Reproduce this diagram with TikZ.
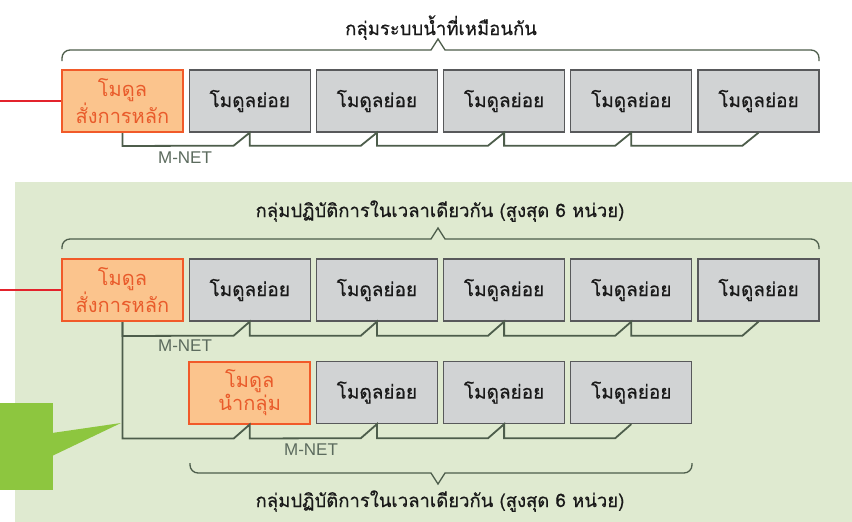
\documentclass[tikz,border=0pt]{standalone}
\usepackage{fontspec}
\newfontfamily\thai[Script=Thai,FakeBold=0.5]{Loma}
\newfontfamily\thaireg[Script=Thai]{Loma}
\newfontfamily\lat{Liberation Sans}
\usetikzlibrary{calc}
\definecolor{panelc}{HTML}{DFEAD0}
\definecolor{calloutc}{HTML}{8DC63F}
\definecolor{orfill}{HTML}{FBC48D}
\definecolor{ordraw}{HTML}{F15A29}
\definecolor{ortext}{HTML}{E95B2B}
\definecolor{grfill}{HTML}{D1D3D4}
\definecolor{grdraw}{HTML}{58595B}
\definecolor{busc}{HTML}{4D5D4B}
\definecolor{labc}{HTML}{5C6B5E}
\definecolor{redc}{HTML}{E3232C}
\tikzset{
  sub/.style={draw=grdraw, line width=1.3pt, fill=grfill, minimum width=121pt, minimum height=62pt, inner sep=0pt, font=\thai\fontsize{19}{22}\selectfont, text=black!90},
  mainbox/.style={draw=ordraw, line width=2pt, fill=orfill, minimum width=121pt, minimum height=62pt, inner sep=0pt, align=center, font=\thaireg\fontsize{20}{19}\selectfont, text=ortext},
  bus/.style={draw=busc, line width=1.8pt},
  brace/.style={draw=busc, line width=1.3pt},
  netlabel/.style={font=\lat\fontsize{17}{20}\selectfont, text=labc},
  title/.style={font=\thai\fontsize{18.5}{20}\selectfont, text=black!90, anchor=base},
  redline/.style={draw=redc, line width=1.5pt}
}
\begin{document}
\begin{tikzpicture}[x=1pt,y=-1pt]
\useasboundingbox (0,0) rectangle (852,522);
\fill[white] (0,0) rectangle (852,522);
% green panel
\fill[panelc] (15,182) rectangle (852,522);
% callout
\fill[calloutc] (0,403) rectangle (53,490);
\fill[calloutc] (52,433) -- (121,423) -- (52,456) -- cycle;

% ---------- row 1 ----------
\node[title] (t1) at (441,35) {กลุ่มระบบน้ำที่เหมือนกัน};
\draw[brace] (62,61) [rounded corners=8pt] -- (62,50) -- (300,50) [sharp corners] -- (431,50) -- (438,39) -- (445,50) -- (600,50) [rounded corners=8pt] -- (819,50) -- (819,61);
\node[mainbox] (a1) at (122.5,101) {โมดูล\\สั่งการหลัก};
\foreach \i/\x in {2/249.7,3/376.9,4/504.1,5/631.3,6/758.5}
  \node[sub] (a\i) at (\x,101) {โมดูลย่อย};
\coordinate (ra) at (0,101);
\draw[redline] (ra) -- (a1.west);
\draw[bus] (a1.south) -- ++(0,13) -- ($(a2.south)+(-16,13)$) -- (a2.south)
  -- ++(0,13) -- ($(a3.south)+(-16,13)$) -- (a3.south)
  -- ++(0,13) -- ($(a4.south)+(-16,13)$) -- (a4.south)
  -- ++(0,13) -- ($(a5.south)+(-16,13)$) -- (a5.south)
  -- ++(0,13) -- ($(a6.south)+(-16,13)$) -- (a6.south);
\node[netlabel] (n1) at (185,158) {M-NET};

% ---------- row 2 ----------
\node[title] (t2) at (440,217) {กลุ่มปฏิบัติการในเวลาเดียวกัน (สูงสุด 6 หน่วย)};
\draw[brace] (62,249) [rounded corners=8pt] -- (62,239) -- (300,239) [sharp corners] -- (431,239) -- (438,228) -- (445,239) -- (600,239) [rounded corners=8pt] -- (819,239) -- (819,249);
\node[mainbox] (b1) at (122.5,290) {โมดูล\\สั่งการหลัก};
\foreach \i/\x in {2/249.7,3/376.9,4/504.1,5/631.3,6/758.5}
  \node[sub] (b\i) at (\x,290) {โมดูลย่อย};
\coordinate (rb) at (0,290);
\draw[redline] (rb) -- (b1.west);
\draw[bus] (b1.south) -- ++(0,14) -- ($(b2.south)+(-16,14)$) -- (b2.south)
  -- ++(0,14) -- ($(b3.south)+(-16,14)$) -- (b3.south)
  -- ++(0,14) -- ($(b4.south)+(-16,14)$) -- (b4.south)
  -- ++(0,14) -- ($(b5.south)+(-16,14)$) -- (b5.south)
  -- ++(0,14) -- ($(b6.south)+(-16,14)$) -- (b6.south);
\node[netlabel] (n2) at (185,346) {M-NET};

% ---------- row 3 ----------
\node[mainbox] (c1) at (249.7,392.5) {โมดูล\\นำกลุ่ม};
\foreach \i/\x in {2/376.9,3/504.1,4/631.3}
  \node[sub] (c\i) at (\x,392.5) {โมดูลย่อย};
\draw[bus] (b1.south) |- ($(c1.south)+(-16,14)$) -- (c1.south)
  -- ++(0,14) -- ($(c2.south)+(-16,14)$) -- (c2.south)
  -- ++(0,14) -- ($(c3.south)+(-16,14)$) -- (c3.south)
  -- ++(0,14) -- ($(c4.south)+(-16,14)$) -- (c4.south);
\node[netlabel] (n3) at (311,450) {M-NET};
\draw[brace] (190,463) [rounded corners=8pt] -- (190,473) -- (300,473) [sharp corners] -- (431,473) -- (438,484) -- (445,473) -- (600,473) [rounded corners=8pt] -- (692,473) -- (692,463);
\node[title] (t3) at (440,507) {กลุ่มปฏิบัติการในเวลาเดียวกัน (สูงสุด 6 หน่วย)};
\end{tikzpicture}
\end{document}
